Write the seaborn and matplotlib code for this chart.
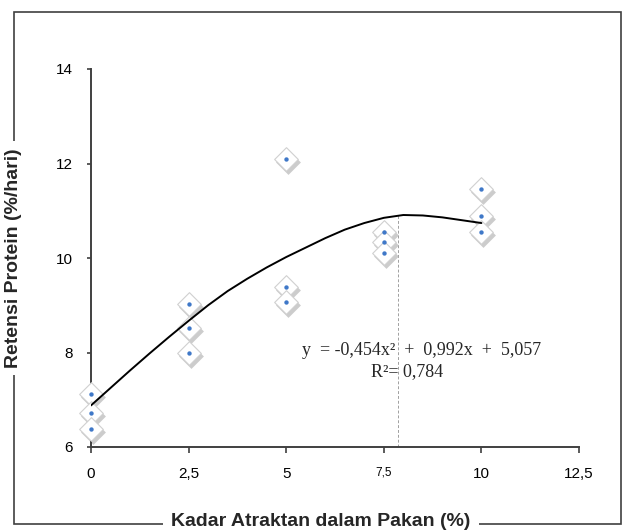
import matplotlib
matplotlib.use('Agg')
import matplotlib.pyplot as plt
import matplotlib.transforms as mtransforms
from matplotlib.patches import Rectangle
import pandas as pd
import seaborn as sns

# observed values (3 replicates per level)
kadar = [0, 0, 0, 2.5, 2.5, 2.5, 5, 5, 5, 7.5, 7.5, 7.5, 10, 10, 10]
retensi = [7.12, 6.72, 6.38, 9.03, 8.52, 7.99, 12.10, 9.39, 9.07,
           10.55, 10.34, 10.11, 11.46, 10.89, 10.55]

# trend line as drawn in the chart
kurva_x = [0, 0.5, 1, 1.5, 2, 2.5, 3, 3.5, 4, 4.5, 5, 5.5, 6, 6.5, 7, 7.5, 8, 8.5, 9, 9.5, 10]
kurva_y = [6.88, 7.25, 7.62, 7.98, 8.33, 8.67, 9.0, 9.3, 9.56, 9.8, 10.02, 10.22,
           10.42, 10.6, 10.74, 10.85, 10.91, 10.9, 10.86, 10.8, 10.74]

x_ticks = [0, 2.5, 5, 7.5, 10, 12.5]
x_labels = ['0', '2,5', '5', '7,5', '10', '12,5']
y_ticks = [6, 8, 10, 12, 14]
puncak_x = 7.87

df = pd.DataFrame({'kadar': kadar, 'retensi': retensi})
kurva = pd.DataFrame({'x': kurva_x, 'y': kurva_y})

sns.set_theme(style='white')
plt.rcParams['font.family'] = ['Liberation Sans', 'DejaVu Sans']

fig = plt.figure(figsize=(6.23, 5.31), dpi=100)
ax = fig.add_axes([91 / 623, 1 - 447 / 531, 488 / 623, 378 / 531])

# shadow under each marker
shadow = mtransforms.offset_copy(ax.transData, fig=fig, x=2, y=-3, units='dots')
ax.scatter(df['kadar'], df['retensi'], marker='D', s=160, color='#aaaaaa',
           alpha=0.6, linewidths=0, transform=shadow, clip_on=False, zorder=2)
sns.scatterplot(data=df, x='kadar', y='retensi', marker='D', s=145, color='white',
                edgecolor='#d0d0d0', linewidth=0.8, ax=ax, clip_on=False, zorder=3)
sns.scatterplot(data=df, x='kadar', y='retensi', marker='o', s=10, color='#3f78c8',
                linewidth=0, ax=ax, clip_on=False, zorder=4)

sns.lineplot(data=kurva, x='x', y='y', color='black', linewidth=1.4, ax=ax, zorder=5)
ax.plot([puncak_x, puncak_x], [6, max(kurva_y)], color='#a0a0a0', lw=0.7,
        ls=(0, (3, 2)), zorder=1)

ax.set_xlim(0, 12.5)
ax.set_ylim(6, 14)
ax.set_xticks(x_ticks)
ax.set_xticklabels(x_labels)
ax.set_yticks(y_ticks)
ax.tick_params(axis='x', direction='out', length=4.3, width=1.2, color='#404040',
               pad=10, labelsize=11, labelcolor='black')
ax.tick_params(axis='y', direction='out', length=2.9, width=1.2, color='#404040',
               pad=10, labelsize=11, labelcolor='black')
ax.get_xticklabels()[3].set_fontsize(8.5)
ax.tick_params(bottom=True, left=True)
for s in ['top', 'right']:
    ax.spines[s].set_visible(False)
for s in ['left', 'bottom']:
    ax.spines[s].set_color('#404040')
    ax.spines[s].set_linewidth(1.4)
ax.set_xlabel('')
ax.set_ylabel('')

ax.text(8.48, 8.05, 'y  = -0,454x²  +  0,992x  +  5,057', family='Liberation Serif',
        fontsize=13, ha='center', va='center')
ax.text(8.09, 7.59, 'R²= 0,784', family='Liberation Serif', fontsize=13,
        ha='center', va='center')

# outer frame with axis titles sitting on it
fig.patches.append(Rectangle((14 / 623, 1 - 524 / 531), 607 / 623, 512 / 531,
                             transform=fig.transFigure, fill=False,
                             edgecolor='#404040', linewidth=1.2))
fig.text(321 / 623, 1 - 521 / 531, 'Kadar Atraktan dalam Pakan (%)', ha='center',
         va='center', fontsize=14, fontweight='bold',
         bbox=dict(facecolor='white', edgecolor='none', pad=6))
fig.text(14 / 623, 1 - 258 / 531, 'Retensi Protein (%/hari)', ha='center',
         va='center', rotation=90, fontsize=14, fontweight='bold',
         bbox=dict(facecolor='white', edgecolor='none', pad=5))

fig.savefig('out.png', dpi=100)
